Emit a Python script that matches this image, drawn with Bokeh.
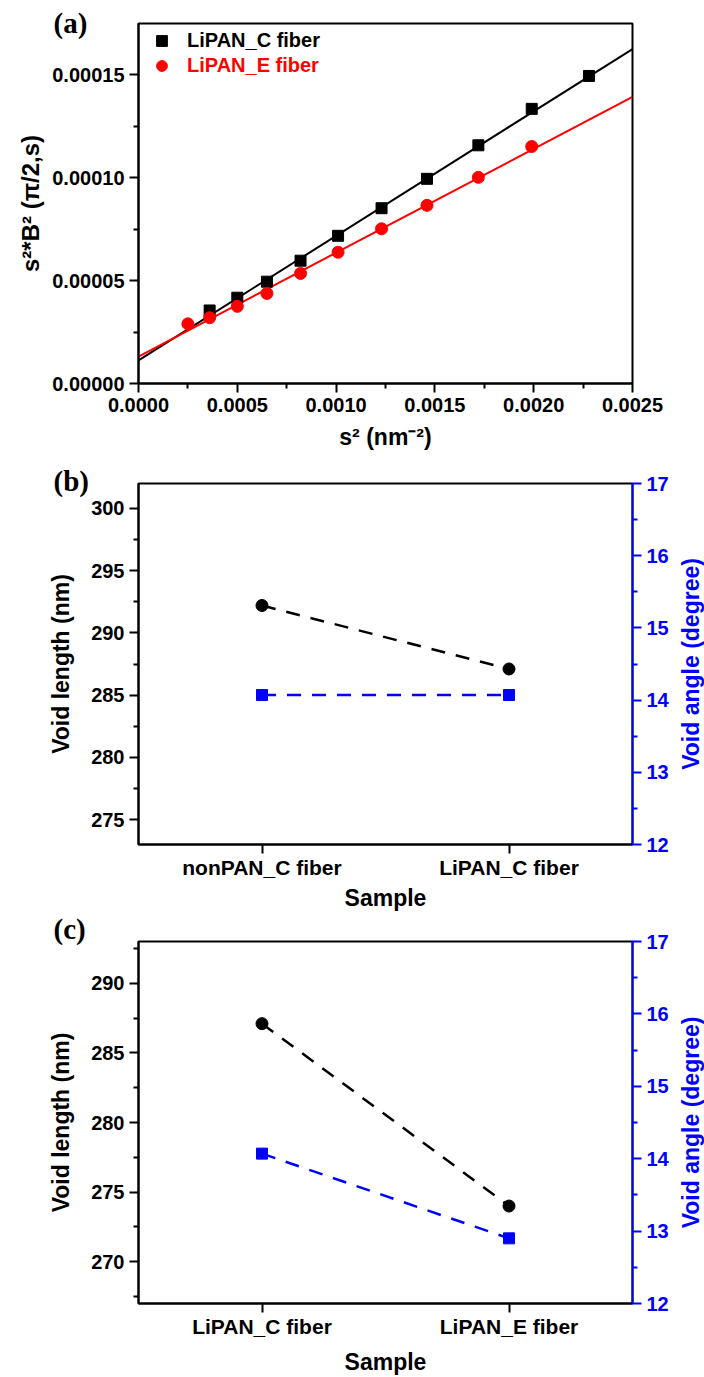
from bokeh.plotting import figure
from bokeh.models import (Range1d, FactorRange, LinearAxis, FixedTicker, Legend, LegendItem,
                          PrintfTickFormatter)
from bokeh.layouts import column, row
from bokeh.embed import file_html
from bokeh.resources import INLINE

# ---------------- data ----------------
# panel (a)
s2_C = [0.00036, 0.00050, 0.00065, 0.00082, 0.00101, 0.00123, 0.00146, 0.00172, 0.00199, 0.00228]
sB_C = [3.55e-5, 4.17e-5, 4.95e-5, 5.97e-5, 7.18e-5, 8.52e-5, 9.95e-5, 1.158e-4, 1.335e-4, 1.495e-4]
s2_E = [0.00025, 0.00036, 0.00050, 0.00065, 0.00082, 0.00101, 0.00123, 0.00146, 0.00172, 0.00199]
sB_E = [2.90e-5, 3.20e-5, 3.75e-5, 4.38e-5, 5.35e-5, 6.38e-5, 7.52e-5, 8.66e-5, 1.002e-4, 1.152e-4]
fit_C = [1.12e-5, 0.06056]   # intercept, slope
fit_E = [1.31e-5, 0.05048]
fit_x = [0.0, 0.0025]
names_a = ["LiPAN_C fiber", "LiPAN_E fiber"]
xticks_a = [0.0, 0.0005, 0.0010, 0.0015, 0.0020, 0.0025]
yticks_a = [0.0, 0.00005, 0.00010, 0.00015]

# panel (b)
samples_b = ["nonPAN_C fiber", "LiPAN_C fiber"]
length_b = [292.2, 287.1]
angle_b = [14.07, 14.07]
lticks_b = [275, 280, 285, 290, 295, 300]

# panel (c)
samples_c = ["LiPAN_C fiber", "LiPAN_E fiber"]
length_c = [287.1, 274.0]
angle_c = [14.07, 12.90]
lticks_c = [270, 275, 280, 285, 290]

angle_ticks = [12, 13, 14, 15, 16, 17]

# ---------------- style ----------------
FONT = "Liberation Sans"
SERIF = "Liberation Serif"
W = 704
FL, FR = 138, 632
WQ = 32            # width of the strip that holds the right-hand axis title
BLUE = "#0000FF"
RED = "#FF0000"
TICK = "20px"
TITLE = "23px"
TAG_H = 34


def style_axis(ax, color="black", tick_size=TICK):
    ax.axis_line_width = 2
    ax.axis_line_color = color
    ax.major_tick_line_width = 2
    ax.major_tick_line_color = color
    ax.minor_tick_line_width = 2
    ax.minor_tick_line_color = color
    ax.major_tick_in = 0
    ax.major_tick_out = 9
    ax.minor_tick_in = 0
    ax.minor_tick_out = 5
    ax.major_label_text_font = FONT
    ax.major_label_text_font_style = "bold"
    ax.major_label_text_font_size = tick_size
    ax.major_label_text_color = color
    ax.axis_label_text_font = FONT
    ax.axis_label_text_font_style = "bold"
    ax.axis_label_text_font_size = TITLE
    ax.axis_label_text_color = color


def base_fig(width, height, top, bottom, xr, yr, tag, tag_center):
    p = figure(width=width, height=height, x_range=xr, y_range=yr,
               output_backend="svg", toolbar_location=None,
               min_border_left=FL, min_border_right=width - FR,
               min_border_top=top, min_border_bottom=bottom)
    p.outline_line_color = "black"
    p.outline_line_width = 2
    p.xgrid.visible = False
    p.ygrid.visible = False
    p.border_fill_color = "white"
    p.background_fill_color = "white"
    # panel tag "(a)" etc. drawn as the title, pulled down beside the frame
    size = 2 * (top - tag_center)
    p.title.text = tag
    p.title.align = "left"
    p.title.offset = -85
    p.title.vertical_align = "middle"
    p.title.standoff = size - 2 - TAG_H
    p.title.text_font = SERIF
    p.title.text_font_style = "bold"
    p.title.text_font_size = "29px"
    p.title.text_color = "black"
    return p


def mids(t):
    return [(a + b) / 2 for a, b in zip(t[:-1], t[1:])]


# ---------------- panel (a) ----------------
HA, TA, BA = 460, 23, 77
pa = base_fig(W, HA, TA, BA, Range1d(0, 0.0025), Range1d(0, 0.000175), "(a)", 21)
fy_C = [fit_C[0] + fit_C[1] * x for x in fit_x]
fy_E = [fit_E[0] + fit_E[1] * x for x in fit_x]
pa.line(fit_x, fy_C, line_color="black", line_width=2)
pa.line(fit_x, fy_E, line_color=RED, line_width=2)
rC = pa.scatter(s2_C, sB_C, marker="square", size=11, color="black")
rE = pa.scatter(s2_E, sB_E, marker="circle", size=12, color=RED)

pa.xaxis.ticker = FixedTicker(ticks=xticks_a, minor_ticks=mids(xticks_a))
pa.yaxis.ticker = FixedTicker(ticks=yticks_a, minor_ticks=mids(yticks_a))
pa.xaxis.formatter = PrintfTickFormatter(format="%.4f")
pa.yaxis.formatter = PrintfTickFormatter(format="%.5f")
pa.xaxis.axis_label = "s\u00b2 (nm\u207b\u00b2)"
pa.yaxis.axis_label = "s\u00b2*B\u00b2 (\u03c0/2,s)"
for ax in pa.xaxis + pa.yaxis:
    style_axis(ax)
pa.yaxis.axis_label_text_font_size = "24px"
pa.xaxis.major_label_standoff = 5
pa.xaxis.axis_label_standoff = 9
pa.yaxis.major_label_standoff = 5
pa.yaxis.axis_label_standoff = 5

frame_h_a = HA - TA - BA
for name, r, col, cy in [(names_a[0], rC, "black", 18), (names_a[1], rE, RED, 43)]:
    leg = Legend(items=[LegendItem(label=name, renderers=[r])],
                 location=(10, frame_h_a - cy - 13),
                 glyph_width=27, glyph_height=27, label_height=26, label_standoff=12,
                 padding=0, margin=0, spacing=0,
                 border_line_color=None, background_fill_alpha=0,
                 label_text_font=FONT, label_text_font_style="bold",
                 label_text_font_size="20px", label_text_color=col)
    pa.add_layout(leg)


# ---------------- panels (b), (c) ----------------
def twin_panel(height, top, bottom, samples, length, angle, ylo, yhi, lticks, tag, tag_c,
               xl_std, xa_std):
    p = base_fig(W - WQ, height, top, bottom, FactorRange(*samples), Range1d(ylo, yhi), tag, tag_c)
    p.extra_y_ranges = {"angle": Range1d(12, 17)}
    p.line(samples, length, line_color="black", line_width=2.5, line_dash="14 11")
    p.scatter(samples, length, marker="circle", size=12, color="black")
    p.line(samples, angle, line_color=BLUE, line_width=2.5, line_dash="14 11", y_range_name="angle")
    p.scatter(samples, angle, marker="square", size=11, color=BLUE, y_range_name="angle")

    minor_l = [t - 2.5 for t in lticks] + [lticks[-1] + 2.5]
    minor_l = [m for m in minor_l if ylo <= m <= yhi]
    p.yaxis.ticker = FixedTicker(ticks=lticks, minor_ticks=minor_l)
    p.yaxis.axis_label = "Void length (nm)"
    p.xaxis.axis_label = "Sample"
    ax_r = LinearAxis(y_range_name="angle",
                      ticker=FixedTicker(ticks=angle_ticks, minor_ticks=mids(angle_ticks)))
    p.add_layout(ax_r, "right")
    for ax in p.xaxis + p.yaxis:
        style_axis(ax)
    style_axis(ax_r, BLUE)
    p.xaxis.major_label_text_font_size = "21px"
    p.xaxis.major_label_standoff = xl_std
    p.xaxis.axis_label_standoff = xa_std
    p.yaxis[0].major_label_standoff = 5
    p.yaxis[0].axis_label_standoff = 14
    ax_r.major_label_standoff = 5

    # right-hand axis title, reading bottom-to-top, in a thin strip beside the panel
    q = figure(width=WQ, height=height, x_range=Range1d(0, 1), y_range=Range1d(12, 17),
               output_backend="svg", toolbar_location=None,
               min_border_left=WQ - 2, min_border_right=0,
               min_border_top=top, min_border_bottom=bottom)
    q.outline_line_color = None
    q.xgrid.visible = False
    q.ygrid.visible = False
    q.xaxis.visible = False
    q.border_fill_color = "white"
    q.background_fill_color = "white"
    q.yaxis.ticker = FixedTicker(ticks=[])
    q.yaxis.axis_line_color = None
    q.yaxis.major_tick_out = 0
    q.yaxis.minor_tick_out = 0
    q.yaxis.major_tick_in = 0
    q.yaxis.minor_tick_in = 0
    q.yaxis.axis_label = "Void angle (degree)"
    q.yaxis.axis_label_text_font = FONT
    q.yaxis.axis_label_text_font_style = "bold"
    q.yaxis.axis_label_text_font_size = TITLE
    q.yaxis.axis_label_text_color = BLUE
    q.yaxis.axis_label_standoff = -1
    return row(p, q, spacing=0)


HB, TB, BB = 453, 23, 69
pb = twin_panel(HB, TB, BB, samples_b, length_b, angle_b, 273, 302, lticks_b, "(b)", 19, 2, 3)

HC, TC, BC = 464, 28, 74
pc = twin_panel(HC, TC, BC, samples_c, length_c, angle_c, 267, 293, lticks_c, "(c)", 14, 2, 8)

layout = column(pa, pb, pc, spacing=0)
open("out.html", "w").write(file_html(layout, INLINE))
